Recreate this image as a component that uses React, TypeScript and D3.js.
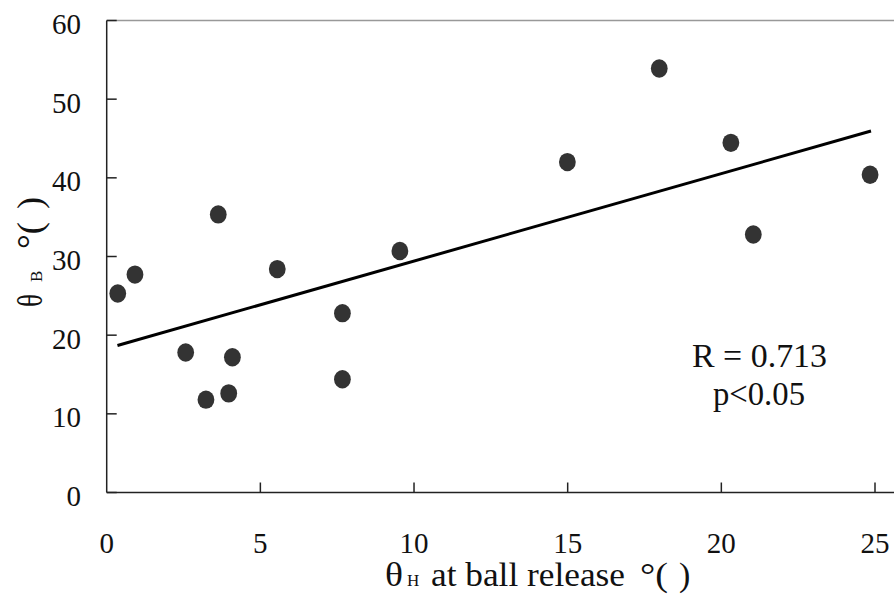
import React from "react";
import * as d3 from "d3";

const thetaH = [0.36, 0.92, 2.57, 3.23, 3.63, 3.97, 4.09, 5.55, 7.67, 7.67, 9.54, 14.99, 17.98, 20.31, 21.04, 24.84];
const thetaB = [25.3, 27.7, 17.8, 11.8, 35.35, 12.6, 17.2, 28.4, 22.8, 14.4, 30.7, 42.0, 53.9, 44.45, 32.8, 40.4];
const xTicks = [0, 5, 10, 15, 20, 25];
const yTicks = [0, 10, 20, 30, 40, 50, 60];
const fitX = [0.35, 24.87];
const fitIntercept = 18.3;
const fitSlope = 1.112;
const statLines = ["R = 0.713", "p<0.05"];

const W = 894;
const H = 595;
const serif = "'Liberation Serif', 'DejaVu Serif', serif";

export default function App() {
  const x = d3.scaleLinear().domain([0, 25]).range([106.7, 875]);
  const y = d3.scaleLinear().domain([0, 60]).range([492.5, 20.5]);
  const line = d3
    .line<number>()
    .x((d) => x(d))
    .y((d) => y(fitIntercept + fitSlope * d));
  const x0 = x(0);
  const y0 = y(0);
  const yTop = y(60);

  return (
    <svg
      width={W}
      height={H}
      style={{ position: "absolute", left: 0, top: 0, background: "#fff" }}
      fontFamily={serif}
    >
      <rect x={0} y={0} width={W} height={H} fill="#fff" />
      <line x1={x0} x2={W} y1={yTop} y2={yTop} stroke="#999" strokeWidth={1.5} />
      <line x1={x0} x2={x0} y1={yTop} y2={y0} stroke="#222" strokeWidth={1.5} />
      <line x1={x0} x2={W} y1={y0} y2={y0} stroke="#222" strokeWidth={1.5} />
      {yTicks.map((t) => (
        <g key={"y" + t}>
          <line x1={x0} x2={x0 + 10} y1={y(t)} y2={y(t)} stroke="#222" strokeWidth={1.5} />
          <text
            x={81}
            y={y(t) + 3.5}
            textAnchor="end"
            dominantBaseline="central"
            fontSize={29}
            fill="#111"
          >
            {t}
          </text>
        </g>
      ))}
      {xTicks.map((t) => (
        <g key={"x" + t}>
          {t > 0 && (
            <line x1={x(t)} x2={x(t)} y1={y0} y2={y0 - 10} stroke="#222" strokeWidth={1.5} />
          )}
          <text x={x(t)} y={553} textAnchor="middle" fontSize={29} fill="#111">
            {t}
          </text>
        </g>
      ))}
      <path d={line(fitX) || ""} fill="none" stroke="#000" strokeWidth={3} />
      {thetaH.map((v, i) => (
        <ellipse key={i} cx={x(v)} cy={y(thetaB[i])} rx={8.4} ry={9.2} fill="#333" />
      ))}
      <text x={692} y={367} fontSize={33} fill="#111" textLength={135} lengthAdjust="spacingAndGlyphs">
        {statLines[0]}
      </text>
      <text x={713} y={405} fontSize={33} fill="#111" textLength={92} lengthAdjust="spacingAndGlyphs">
        {statLines[1]}
      </text>
      {/* x axis label */}
      <g fill="#111">
        <text x={385} y={586} fontSize={34} textLength={18} lengthAdjust="spacingAndGlyphs">θ</text>
        <text x={407} y={586} fontSize={17}>H</text>
        <text x={431} y={586} fontSize={34} textLength={194} lengthAdjust="spacingAndGlyphs">at ball release</text>
        <text x={640} y={586} fontSize={34} textLength={28} lengthAdjust="spacingAndGlyphs">°(</text>
        <text x={679} y={586} fontSize={34}>)</text>
      </g>
      {/* y axis label */}
      <g transform="translate(42,307) rotate(-90)" fill="#111">
        <text x={0} y={0} fontSize={36} textLength={13} lengthAdjust="spacingAndGlyphs">θ</text>
        <text x={25} y={0} fontSize={17}>B</text>
        <text x={58} y={0} fontSize={36} textLength={27} lengthAdjust="spacingAndGlyphs">°(</text>
        <text x={98} y={0} fontSize={36}>)</text>
      </g>
    </svg>
  );
}
